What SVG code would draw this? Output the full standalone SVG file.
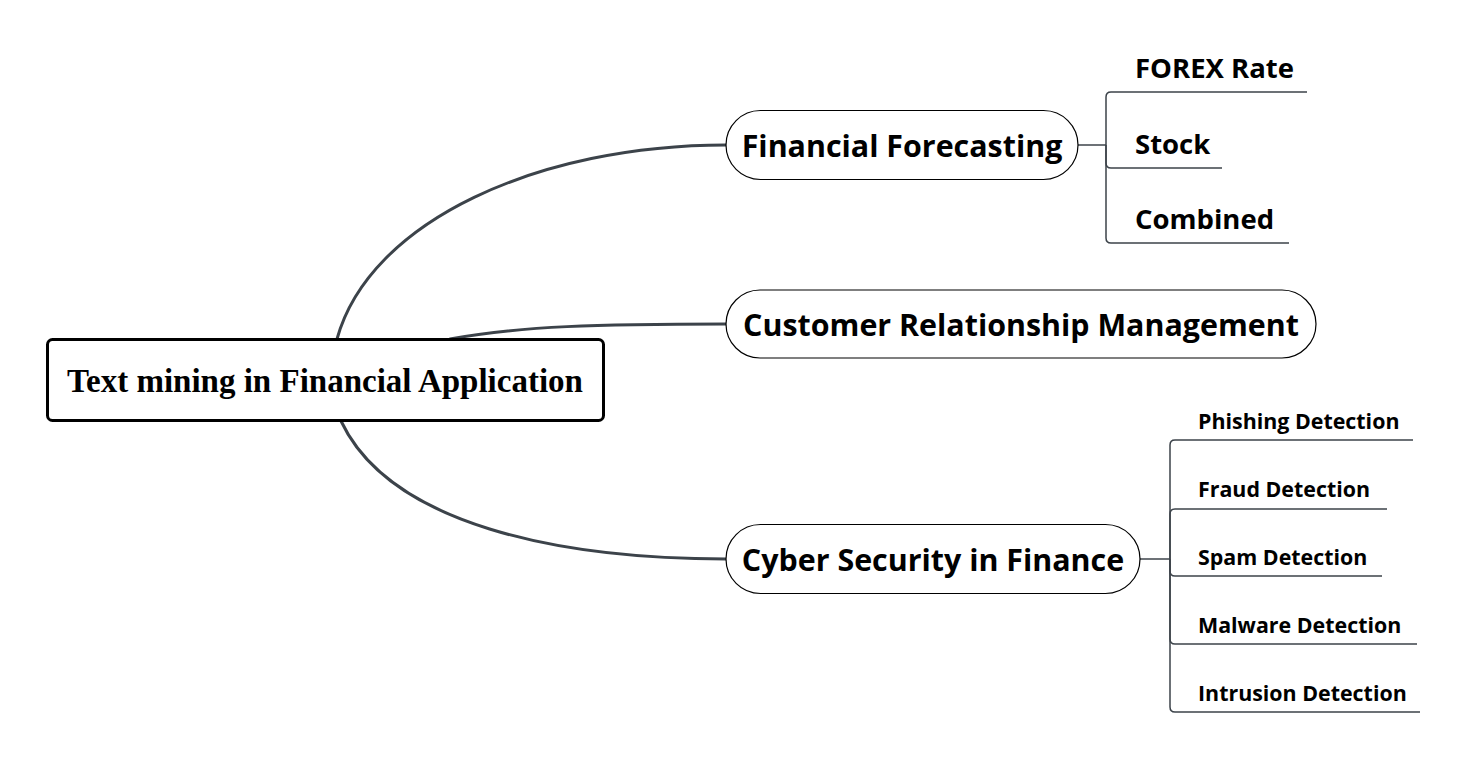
<svg xmlns="http://www.w3.org/2000/svg" width="1473" height="764" viewBox="0 0 1473 764">
<style>
.conn{fill:none;stroke:#3c434a;stroke-width:3;stroke-linecap:round}
.sub{fill:none;stroke:#3c434a;stroke-width:1.5}
.pill{fill:#fff;stroke:#000;stroke-width:1.2}
.t1{font-family:"Open Sans","Noto Sans",sans-serif;font-weight:bold;font-size:30.4px;fill:#000}
.t2{font-family:"Open Sans","Noto Sans",sans-serif;font-weight:bold;font-size:27.5px;fill:#000}
.t3{font-family:"Open Sans","Noto Sans",sans-serif;font-weight:bold;font-size:21.4px;fill:#000}
</style>
<rect width="1473" height="764" fill="#fff"/>
<g id="connectors">
<path class="conn" d="M337,339 C370,220 540,145 726,145"/>
<path class="conn" d="M450,339 C520,326 600,324 726,324"/>
<path class="conn" d="M341,421 C390,525 560,559 726,559"/>
<path class="sub" d="M1078,145 H1106"/>
<path class="sub" d="M1106,145 V97 Q1106,92 1111,92 H1307"/>
<path class="sub" d="M1106,145 V163 Q1106,168 1111,168 H1222"/>
<path class="sub" d="M1106,145 V238 Q1106,243 1111,243 H1289"/>
<path class="sub" d="M1140,559 H1170"/>
<path class="sub" d="M1170,559 V445 Q1170,440 1175,440 H1413"/>
<path class="sub" d="M1170,559 V514 Q1170,509 1175,509 H1387"/>
<path class="sub" d="M1170,559 V571 Q1170,576 1175,576 H1382"/>
<path class="sub" d="M1170,559 V639 Q1170,644 1175,644 H1417"/>
<path class="sub" d="M1170,559 V707 Q1170,712 1175,712 H1420"/>
</g>
<g id="root">
<rect x="47.5" y="339.5" width="556" height="81" rx="5" fill="#fff" stroke="#000" stroke-width="3"/>
<text x="325" y="392" text-anchor="middle" font-family="Liberation Serif,serif" font-weight="bold" font-size="33">Text mining in Financial Application</text>
</g>
<g id="financial-forecasting">
<rect class="pill" x="726" y="110.5" width="352" height="69" rx="34.5"/>
<text class="t1" x="902" y="157" text-anchor="middle">Financial Forecasting</text>
</g>
<g id="crm">
<rect class="pill" x="726" y="290" width="590" height="68" rx="34"/>
<text class="t1" x="1021" y="336" text-anchor="middle">Customer Relationship Management</text>
</g>
<g id="cyber-security">
<rect class="pill" x="726" y="524.5" width="414" height="69" rx="34.5"/>
<text class="t1" x="933" y="571" text-anchor="middle">Cyber Security in Finance</text>
</g>
<g id="forex"><text class="t2" x="1135" y="78">FOREX Rate</text></g>
<g id="stock"><text class="t2" x="1135" y="154">Stock</text></g>
<g id="combined"><text class="t2" x="1135" y="229">Combined</text></g>
<g id="phishing"><text class="t3" x="1198" y="429">Phishing Detection</text></g>
<g id="fraud"><text class="t3" x="1198" y="497">Fraud Detection</text></g>
<g id="spam"><text class="t3" x="1198" y="565">Spam Detection</text></g>
<g id="malware"><text class="t3" x="1198" y="633">Malware Detection</text></g>
<g id="intrusion"><text class="t3" x="1198" y="701">Intrusion Detection</text></g>
</svg>
